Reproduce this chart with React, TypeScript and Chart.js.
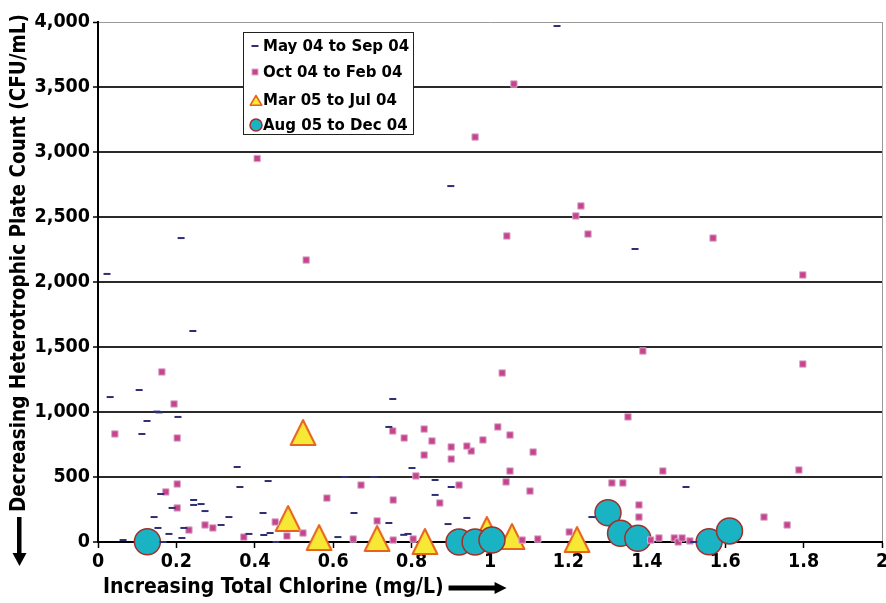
import React, { useEffect, useRef } from 'react';
import { Chart, registerables } from 'chart.js';

Chart.register(...registerables);

const seriesLabels = ['May 04 to Sep 04', 'Oct 04 to Feb 04', 'Mar 05 to Jul 04', 'Aug 05 to Dec 04'];

const mayX = [0.023, 0.212, 0.242, 0.031, 0.105, 0.150, 0.156, 0.125, 0.204, 0.112, 0.355, 0.362, 0.434, 0.160, 0.189, 0.244, 0.244, 0.263, 0.273, 0.143, 0.153, 0.181, 0.219, 0.214, 0.314, 0.334, 0.421, 0.423, 0.385, 0.064, 0.166, 0.454, 0.439, 0.900, 1.171, 1.370, 0.752, 0.742, 0.801, 0.860, 0.901, 0.860, 0.653, 0.742, 0.893, 0.941, 0.612, 0.791, 0.780, 0.630, 0.704, 1.260, 1.500, 1.520];
const mayY = [2062, 2338, 1623, 1115, 1169, 1003, 997, 931, 962, 831, 577, 423, 469, 369, 262, 323, 285, 292, 238, 192, 108, 62, 108, 31, 131, 192, 223, 54, 62, 15, 0, 0, 69, 2738, 3969, 2254, 1100, 885, 569, 477, 423, 362, 223, 146, 138, 185, 38, 62, 55, 500, 500, 192, 423, 0];

const octX = [0.406, 0.531, 0.962, 1.061, 1.232, 1.219, 1.043, 1.250, 1.569, 1.798, 1.390, 1.798, 1.788, 1.699, 1.758, 1.441, 1.470, 1.480, 1.490, 1.510, 1.431, 1.410, 1.031, 1.352, 1.020, 0.982, 1.051, 0.952, 1.110, 1.051, 1.041, 1.102, 1.311, 1.339, 1.380, 1.380, 1.122, 1.202, 1.082, 0.752, 0.781, 0.832, 0.852, 0.832, 0.901, 0.901, 0.941, 0.811, 0.921, 0.872, 0.671, 0.584, 0.753, 0.712, 0.482, 0.523, 0.651, 0.753, 0.804, 0.163, 0.194, 0.043, 0.202, 0.202, 0.173, 0.202, 0.273, 0.293, 0.232, 0.372, 0.452];
const octY = [2950, 2169, 3115, 3523, 2585, 2508, 2354, 2369, 2338, 2054, 1469, 1369, 554, 192, 131, 546, 31, 0, 31, 8, 31, 15, 1300, 962, 885, 785, 823, 700, 692, 546, 462, 392, 454, 454, 285, 192, 23, 77, 15, 854, 800, 869, 777, 669, 731, 638, 738, 508, 438, 300, 438, 338, 323, 162, 46, 69, 23, 15, 23, 1308, 1062, 831, 800, 446, 385, 262, 131, 108, 92, 38, 154];

const marX = [0.523, 0.485, 0.564, 0.712, 0.834, 0.992, 1.056, 1.222];
const marY = [846, 185, 38, 31, 8, 100, 46, 23];

const augX = [0.126, 0.921, 0.962, 1.005, 1.301, 1.333, 1.377, 1.559, 1.611];
const augY = [2, 0, 0, 15, 225, 67, 28, 2, 85];

const xTickLabels = ['0', '0.2', '0.4', '0.6', '0.8', '1', '1.2', '1.4', '1.6', '1.8', '2'];
const yTickLabels = ['0', '500', '1,000', '1,500', '2,000', '2,500', '3,000', '3,500', '4,000'];

const xTitle = 'Increasing Total Chlorine (mg/L)';
const yTitle = 'Decreasing Heterotrophic Plate Count (CFU/mL)';

const DASH = '#2e2e72';
const SQ_FILL = '#c4448e';
const SQ_BORDER = '#dcaacb';
const TRI_FILL = '#f6e834';
const TRI_BORDER = '#e8621e';
const CIR_FILL = '#1ab3c3';
const CIR_BORDER = '#a0302b';

const COND = '"DejaVu Sans Condensed", "DejaVu Sans", sans-serif';

function toPoints(xs: number[], ys: number[]) {
  return xs.map((x, i) => ({ x, y: ys[i] }));
}

function makeTriangle(w: number, h: number, lw: number) {
  const c = document.createElement('canvas');
  c.width = w;
  c.height = h;
  const g = c.getContext('2d')!;
  g.beginPath();
  g.moveTo(w / 2, lw);
  g.lineTo(w - lw * 0.8, h - lw / 2);
  g.lineTo(lw * 0.8, h - lw / 2);
  g.closePath();
  g.fillStyle = TRI_FILL;
  g.fill();
  g.lineWidth = lw;
  g.lineJoin = 'round';
  g.strokeStyle = TRI_BORDER;
  g.stroke();
  return c;
}

const decorPlugin = {
  id: 'decor',
  afterDraw(chart: any) {
    const ctx = chart.ctx as CanvasRenderingContext2D;
    const area = chart.chartArea;
    ctx.save();
    // legend box
    const lx = area.left + 145;
    const ly = area.top + 10;
    const lw = 170;
    const lh = 102;
    ctx.fillStyle = '#ffffff';
    ctx.fillRect(lx, ly, lw, lh);
    ctx.strokeStyle = '#222';
    ctx.lineWidth = 1;
    ctx.strokeRect(lx + 0.5, ly + 0.5, lw, lh);
    const rows = [14, 40, 68, 93];
    const mx = lx + 12;
    // dash
    ctx.strokeStyle = DASH;
    ctx.lineWidth = 2;
    ctx.beginPath();
    ctx.moveTo(mx - 3.5, ly + rows[0]);
    ctx.lineTo(mx + 3.5, ly + rows[0]);
    ctx.stroke();
    // square
    ctx.fillStyle = SQ_FILL;
    ctx.fillRect(mx - 3, ly + rows[1] - 3, 6, 6);
    ctx.strokeStyle = SQ_BORDER;
    ctx.lineWidth = 1;
    ctx.strokeRect(mx - 3, ly + rows[1] - 3, 6, 6);
    // triangle
    const tri = makeTriangle(14, 12, 1.5);
    ctx.drawImage(tri, mx - 7 + 1, ly + rows[2] - 6);
    // circle
    ctx.beginPath();
    ctx.arc(mx + 1, ly + rows[3], 6, 0, Math.PI * 2);
    ctx.fillStyle = CIR_FILL;
    ctx.fill();
    ctx.strokeStyle = CIR_BORDER;
    ctx.lineWidth = 1.5;
    ctx.stroke();
    ctx.fillStyle = '#000';
    ctx.font = 'bold 15px "DejaVu Sans", sans-serif';
    ctx.textBaseline = 'middle';
    ctx.textAlign = 'left';
    seriesLabels.forEach((t, i) => {
      ctx.fillText(t, lx + 20, ly + rows[i] + 1);
    });

    // y title
    ctx.font = 'bold 20.5px ' + COND;
    ctx.save();
    ctx.translate(20, area.bottom - 30);
    ctx.rotate(-Math.PI / 2);
    ctx.textAlign = 'left';
    ctx.textBaseline = 'middle';
    ctx.fillText(yTitle, 0, 0);
    ctx.restore();
    // y arrow
    ctx.fillStyle = '#000';
    ctx.fillRect(17, area.bottom - 25, 4.5, 37);
    ctx.beginPath();
    ctx.moveTo(12.5, area.bottom + 11);
    ctx.lineTo(26.5, area.bottom + 11);
    ctx.lineTo(19.5, area.bottom + 24);
    ctx.closePath();
    ctx.fill();

    // x title
    ctx.font = 'bold 21px ' + COND;
    const tx = area.left + 5;
    const ty = area.bottom + 46;
    ctx.textAlign = 'left';
    ctx.textBaseline = 'middle';
    ctx.fillText(xTitle, tx, ty);
    const w = ctx.measureText(xTitle).width;
    const ax = tx + w + 5;
    ctx.fillRect(ax, ty - 2.5, 47, 5);
    ctx.beginPath();
    ctx.moveTo(ax + 46, ty - 6);
    ctx.lineTo(ax + 46, ty + 6);
    ctx.lineTo(ax + 58, ty);
    ctx.closePath();
    ctx.fill();
    ctx.restore();
  },
};

export default function App() {
  const ref = useRef<HTMLCanvasElement | null>(null);
  useEffect(() => {
    document.body.style.margin = '0';
    const canvas = ref.current!;
    const triangle = makeTriangle(28, 28, 2);
    const tickFont = { family: COND, size: 19.5, weight: 'bold' as const };
    const chart = new Chart(canvas, {
      type: 'scatter',
      data: {
        datasets: [
          {
            label: seriesLabels[0],
            data: toPoints(mayX, mayY),
            pointStyle: 'line',
            pointRadius: 3.5,
            pointBorderWidth: 2,
            borderColor: DASH,
            backgroundColor: DASH,
            clip: false,
            order: 0,
          },
          {
            label: seriesLabels[1],
            data: toPoints(octX, octY),
            pointStyle: 'rect',
            pointRadius: 4.5,
            pointBorderWidth: 1,
            borderColor: SQ_BORDER,
            backgroundColor: SQ_FILL,
            clip: false,
            order: 1,
          },
          {
            label: seriesLabels[2],
            data: toPoints(marX, marY),
            pointStyle: triangle,
            pointRadius: 14,
            borderColor: TRI_BORDER,
            backgroundColor: TRI_FILL,
            clip: false,
            order: 3,
          },
          {
            label: seriesLabels[3],
            data: toPoints(augX, augY),
            pointStyle: 'circle',
            pointRadius: 13,
            pointBorderWidth: 1.5,
            borderColor: CIR_BORDER,
            backgroundColor: CIR_FILL,
            clip: false,
            order: 2,
          },
        ] as any,
      },
      options: {
        animation: false,
        responsive: false,
        layout: { autoPadding: false, padding: { top: 22, right: 4, left: 0, bottom: 0 } },
        plugins: {
          legend: { display: false },
          tooltip: { enabled: false },
        },
        scales: {
          x: {
            type: 'linear',
            min: 0,
            max: 2,
            ticks: {
              stepSize: 0.2,
              color: '#000',
              font: tickFont,
              padding: 2,
              maxRotation: 0,
              autoSkip: false,
              callback: (_v: any, i: number) => xTickLabels[i],
            },
            grid: {
              drawOnChartArea: true,
              color: (c: any) => (c.index === 10 ? '#9a9a9a' : 'rgba(0,0,0,0)'),
              lineWidth: 1,
              tickColor: '#000',
              tickLength: 6,
              tickWidth: 1.5,
            },
            border: { display: true, color: '#000', width: 2 },
            afterFit: (s: any) => {
              s.height = 61;
              s.paddingLeft = 0;
              s.paddingRight = 0;
            },
          },
          y: {
            type: 'linear',
            min: 0,
            max: 4000,
            ticks: {
              stepSize: 500,
              color: '#000',
              font: tickFont,
              padding: 3,
              autoSkip: false,
              callback: (_v: any, i: number) => yTickLabels[i],
            },
            grid: {
              color: (c: any) =>
                c.index === 8 ? '#9a9a9a' : c.index === 0 ? 'rgba(0,0,0,0)' : '#2a2a2a',
              lineWidth: (c: any) => (c.index === 8 ? 1 : 2),
              tickColor: '#000',
              tickLength: 5,
              tickWidth: 1.5,
            },
            border: { display: true, color: '#000', width: 2 },
            afterFit: (s: any) => {
              s.width = 98;
              s.paddingTop = 0;
              s.paddingBottom = 0;
            },
          },
        },
      } as any,
      plugins: [decorPlugin],
    });
    return () => chart.destroy();
  }, []);
  return (
    <div style={{ width: 886, height: 603 }}>
      <canvas ref={ref} width={886} height={603} style={{ display: 'block' }} />
    </div>
  );
}
